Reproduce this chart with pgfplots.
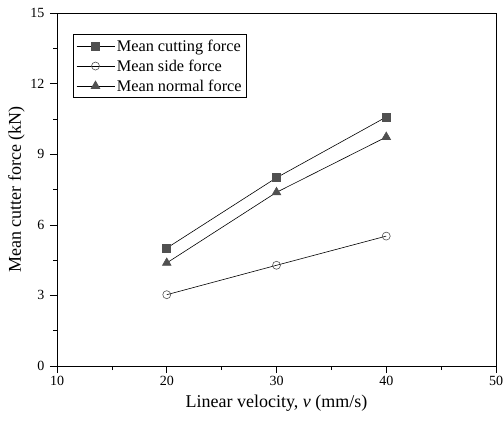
\documentclass[border=0pt]{standalone}
\usepackage{fontspec}
\setmainfont{Liberation Serif}
\usepackage{pgfplots}
\pgfplotsset{compat=1.18}
\definecolor{mk}{HTML}{505050}
\begin{document}
\begin{tikzpicture}
\begin{axis}[
  name=ax,
  scale only axis,
  width=439pt, height=353pt,
  xmin=10, xmax=50, ymin=0, ymax=15,
  xtick={10,20,30,40,50}, ytick={0,3,6,9,12,15},
  minor x tick num=1, minor y tick num=1,
  tick pos=left, tick align=outside,
  major tick length=7pt, minor tick length=4pt,
  every tick/.style={black, line width=0.6pt},
  axis line style={line width=0.8pt},
  /pgf/number format/assume math mode=true,
  ticklabel style={font=\fontsize{14}{16}\selectfont},
  yticklabel style={xshift=-2pt},
  label style={font=\fontsize{18}{21}\selectfont},
  xlabel={Linear velocity, \textit{v} (mm/s)},
  ylabel={Mean cutter force (kN)},
  xlabel style={yshift=-2pt},
  ylabel style={yshift=-1pt},
  legend style={at={(0.036,0.94)}, anchor=north west, draw=black, line width=0.8pt,
    font=\fontsize{16.3}{18}\selectfont, row sep=3pt, inner sep=3pt,
    cells={anchor=west}},
  legend image code/.code={\draw[mark repeat=2,mark phase=2,line width=0.6pt] plot coordinates {(0pt,0pt)(19pt,0pt)(38pt,0pt)};},
]
\addplot[black, line width=0.6pt, mark=square*, mark size=4pt, mark options={fill=mk, draw=mk}]
  coordinates {(20,5.01) (30,8.00) (40,10.58)};
\addlegendentry{Mean cutting force}
\addplot[black, line width=0.6pt, mark=o, mark size=4pt, mark options={fill=white, draw=mk, line width=0.6pt}]
  coordinates {(20,3.03) (30,4.28) (40,5.52)};
\addlegendentry{Mean side force}
\addplot[black, line width=0.6pt, mark=triangle*, mark size=5pt, mark options={fill=mk, draw=mk}]
  coordinates {(20,4.38) (30,7.38) (40,9.73)};
\addlegendentry{Mean normal force}
\end{axis}
\pgfresetboundingbox
\useasboundingbox ([shift={(-57pt,-62pt)}]ax.south west) rectangle ([shift={(8pt,13pt)}]ax.north east);
\end{tikzpicture}
\end{document}
